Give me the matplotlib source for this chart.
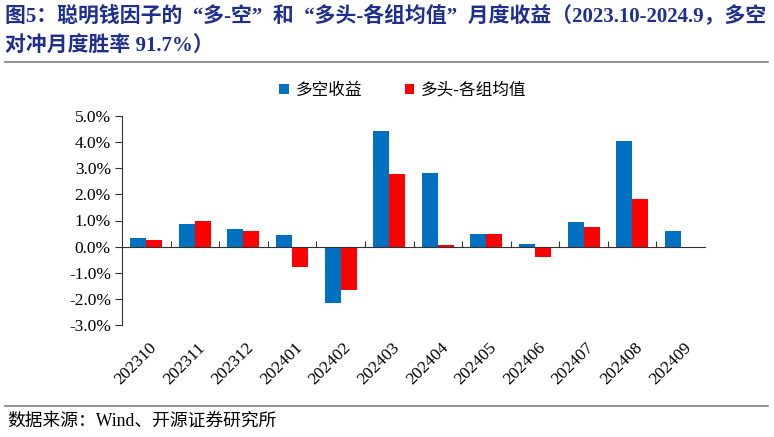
import matplotlib
matplotlib.use("Agg")
import matplotlib.pyplot as plt
import numpy as np

plt.rcParams['font.family'] = ['Liberation Serif', 'Noto Sans CJK SC']

# 月份与两组收益（%）
months = ['202310', '202311', '202312', '202401', '202402', '202403',
          '202404', '202405', '202406', '202407', '202408', '202409']
long_short = [0.32, 0.88, 0.67, 0.44, -2.16, 4.43, 2.82, 0.50, 0.09, 0.94, 4.06, 0.58]
long_minus_avg = [0.27, 0.97, 0.58, -0.79, -1.66, 2.77, 0.05, 0.50, -0.40, 0.74, 1.83, np.nan]
series_names = ['多空收益', '多头-各组均值']

title_line1 = '图5：聪明钱因子的  “多-空”  和  “多头-各组均值”  月度收益（2023.10-2024.9，多空'
title_line2 = '对冲月度胜率 91.7%）'
source = '数据来源：Wind、开源证券研究所'

fig = plt.figure(figsize=(7.74, 4.37), dpi=100)
ax = fig.add_axes([122 / 774, 1 - 325 / 437, (705 - 122) / 774, (325 - 116) / 437])

x = np.arange(len(months))
w = 0.33
ax.bar(x - w / 2, long_short, width=w, color='#0070C0', label=series_names[0])
ax.bar(x + w / 2, long_minus_avg, width=w, color='#FF0000', label=series_names[1])

ax.set_xlim(-0.5, len(months) - 0.5)
ax.set_ylim(-3.0, 5.0)
ax.set_yticks(np.arange(-3, 5.01, 1))
ax.set_yticklabels([f'{v:.1f}%' for v in np.arange(-3, 5.01, 1)], fontsize=12.5)
ax.tick_params(axis='y', direction='out', length=5, width=0.8, color='#333333', pad=3)

for s in ['top', 'right']:
    ax.spines[s].set_visible(False)
ax.spines['left'].set_color('#333333')
ax.spines['bottom'].set_position(('data', 0))
ax.spines['bottom'].set_color('#333333')

ax.set_xticks(np.arange(0.5, len(months) - 0.5, 1))
ax.set_xticklabels([])
ax.tick_params(axis='x', direction='in', length=4, width=0.8, color='#333333')

for i, m in enumerate(months):
    ax.text(i + 0.05, -0.07, m, transform=ax.get_xaxis_transform(), rotation=45,
            ha='right', va='top', rotation_mode='anchor', fontsize=12.5)

leg = fig.legend(loc='center', bbox_to_anchor=(403 / 774, 1 - 90 / 437), ncol=2,
                 frameon=False, fontsize=12, handlelength=0.55, handleheight=0.55,
                 columnspacing=2.6, handletextpad=0.4)
for t in leg.get_texts():
    t.set_family(['Noto Sans CJK SC'])

fig.text(5 / 774, 1 - 17 / 437, title_line1, fontsize=15, fontweight='bold',
         color='#1F2F8F', va='center', ha='left')
fig.text(5 / 774, 1 - 47 / 437, title_line2, fontsize=15, fontweight='bold',
         color='#1F2F8F', va='center', ha='left')
fig.add_artist(plt.Line2D([5 / 774, 768 / 774], [1 - 62 / 437, 1 - 62 / 437],
                          color='#7F7F7F', lw=1.2))
fig.add_artist(plt.Line2D([5 / 774, 768 / 774], [1 - 406 / 437, 1 - 406 / 437],
                          color='#7F7F7F', lw=1.2))
fig.text(7 / 774, 1 - 421 / 437, source, fontsize=12.8, va='center', ha='left',
         family=['Liberation Serif', 'Noto Sans CJK SC'])

fig.savefig('out.png', dpi=100)
